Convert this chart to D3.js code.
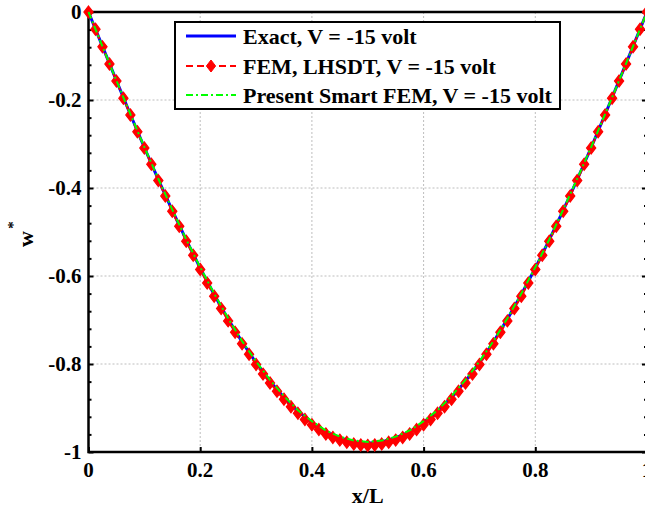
<!DOCTYPE html>
<html><head><meta charset="utf-8">
<script src="https://cdn.jsdelivr.net/npm/d3@7"></script>
<style>
body{margin:0;background:#fff}
svg{display:block}
text{font-family:"Liberation Serif","Times New Roman",serif;font-weight:bold;fill:#000}
</style>
</head><body>
<svg id="chart" width="645" height="509"></svg>
<script>
// ---------- data ----------
const xTicks = [0, 0.2, 0.4, 0.6, 0.8, 1];
const xTickLabels = ["0", "0.2", "0.4", "0.6", "0.8", "1"];
const yTicks = [0, -0.2, -0.4, -0.6, -0.8, -1];
const yTickLabels = ["0", "-0.2", "-0.4", "-0.6", "-0.8", "-1"];
const yMinorTicks = [-0.04,-0.08,-0.12,-0.16,-0.24,-0.28,-0.32,-0.36,-0.44,-0.48,-0.52,-0.56,-0.64,-0.68,-0.72,-0.76,-0.84,-0.88,-0.92,-0.96];
const seriesNames = ["Exact, V = -15 volt", "FEM, LHSDT, V = -15 volt", "Present Smart FEM, V = -15 volt"];
const xLabel = "x/L";
const yLabel = "w";

const xExact = [0,0.025,0.05,0.075,0.1,0.125,0.15,0.175,0.2,0.225,0.25,0.275,0.3,0.325,0.35,0.375,0.4,0.425,0.45,0.475,0.5,
  0.525,0.55,0.575,0.6,0.625,0.65,0.675,0.7,0.725,0.75,0.775,0.8,0.825,0.85,0.875,0.9,0.925,0.95,0.975,1];
const wExact = [0,-0.078,-0.156,-0.233,-0.308,-0.381,-0.451,-0.518,-0.582,-0.642,-0.698,-0.750,-0.797,-0.839,-0.876,-0.907,-0.933,-0.954,-0.968,-0.977,-0.980,
  -0.977,-0.968,-0.954,-0.933,-0.907,-0.876,-0.839,-0.797,-0.750,-0.698,-0.642,-0.582,-0.518,-0.451,-0.381,-0.308,-0.233,-0.156,-0.078,0];
const wPresent = [0,-0.078,-0.156,-0.232,-0.307,-0.379,-0.449,-0.517,-0.580,-0.640,-0.696,-0.748,-0.794,-0.836,-0.873,-0.905,-0.930,-0.951,-0.965,-0.974,-0.977,
  -0.974,-0.965,-0.951,-0.930,-0.905,-0.873,-0.836,-0.794,-0.748,-0.696,-0.640,-0.580,-0.517,-0.449,-0.379,-0.307,-0.232,-0.156,-0.078,0];

const xFEM = [0,0.0125,0.025,0.0375,0.05,0.0625,0.075,0.0875,0.1,0.1125,0.125,0.1375,0.15,0.1625,0.175,0.1875,0.2,0.2125,0.225,0.2375,
  0.25,0.2625,0.275,0.2875,0.3,0.3125,0.325,0.3375,0.35,0.3625,0.375,0.3875,0.4,0.4125,0.425,0.4375,0.45,0.4625,0.475,0.4875,
  0.5,0.5125,0.525,0.5375,0.55,0.5625,0.575,0.5875,0.6,0.6125,0.625,0.6375,0.65,0.6625,0.675,0.6875,0.7,0.7125,0.725,0.7375,
  0.75,0.7625,0.775,0.7875,0.8,0.8125,0.825,0.8375,0.85,0.8625,0.875,0.8875,0.9,0.9125,0.925,0.9375,0.95,0.9625,0.975,0.9875,1];
const wFEM = [0,-0.039,-0.079,-0.118,-0.157,-0.196,-0.234,-0.272,-0.309,-0.346,-0.383,-0.418,-0.453,-0.487,-0.521,-0.553,-0.585,-0.616,-0.646,-0.674,
  -0.702,-0.728,-0.754,-0.778,-0.801,-0.823,-0.843,-0.862,-0.880,-0.897,-0.912,-0.926,-0.938,-0.949,-0.959,-0.967,-0.973,-0.978,-0.982,-0.984,
  -0.985,-0.984,-0.982,-0.978,-0.973,-0.967,-0.959,-0.949,-0.938,-0.926,-0.912,-0.897,-0.880,-0.862,-0.843,-0.823,-0.801,-0.778,-0.754,-0.728,
  -0.702,-0.674,-0.646,-0.616,-0.585,-0.553,-0.521,-0.487,-0.453,-0.418,-0.383,-0.346,-0.309,-0.272,-0.234,-0.196,-0.157,-0.118,-0.079,-0.039,0];

// ---------- layout ----------
const svg = d3.select("#chart");
const L = 88.5, R = 647, T = 12, B = 452;
const x = d3.scaleLinear().domain([0, 1]).range([L, R]);
const y = d3.scaleLinear().domain([-1, 0]).range([B, T]);

// grid
const grid = svg.append("g").attr("stroke", "#bdbdbd").attr("stroke-width", 1).attr("stroke-dasharray", "2,2").attr("fill", "none");
xTicks.slice(1, -1).forEach(v => grid.append("line").attr("x1", x(v)).attr("x2", x(v)).attr("y1", T).attr("y2", B));
yTicks.slice(1, -1).forEach(v => grid.append("line").attr("y1", y(v)).attr("y2", y(v)).attr("x1", L).attr("x2", R));

// axes with inward ticks
const axL = svg.append("g").attr("transform", `translate(${L},0)`)
  .call(d3.axisRight(y).tickValues(yTicks).tickSize(5).tickFormat(""));
const axLm = svg.append("g").attr("transform", `translate(${L},0)`)
  .call(d3.axisRight(y).tickValues(yMinorTicks).tickSize(3).tickFormat(""));
const axR = svg.append("g").attr("transform", `translate(${R},0)`)
  .call(d3.axisLeft(y).tickValues(yTicks).tickSize(5).tickFormat(""));
const axRm = svg.append("g").attr("transform", `translate(${R},0)`)
  .call(d3.axisLeft(y).tickValues(yMinorTicks).tickSize(3).tickFormat(""));
const axB = svg.append("g").attr("transform", `translate(0,${B})`)
  .call(d3.axisTop(x).tickValues(xTicks).tickSize(5).tickFormat(""));
[axL, axLm, axR, axRm, axB].forEach(g => {
  g.select(".domain").remove();
  g.selectAll(".tick line").attr("stroke", "#000").attr("stroke-width", 2);
});

// frame
svg.append("rect").attr("x", L).attr("y", T).attr("width", R - L).attr("height", B - T)
  .attr("fill", "none").attr("stroke", "#000").attr("stroke-width", 2.5);

// tick labels
svg.append("g").selectAll("text").data(yTicks).join("text")
  .attr("x", L - 7).attr("y", d => y(d)).attr("dy", "0.35em").attr("text-anchor", "end")
  .attr("font-size", 21).text((d, i) => yTickLabels[i]);
svg.append("g").selectAll("text").data(xTicks).join("text")
  .attr("x", d => x(d)).attr("y", B + 25).attr("text-anchor", "middle")
  .attr("font-size", 21).text((d, i) => xTickLabels[i]);

// axis titles
svg.append("text").attr("x", (L + R) / 2).attr("y", 503).attr("text-anchor", "middle")
  .attr("font-size", 22).text(xLabel);
svg.append("text").attr("transform", "translate(33,239) rotate(-90)").attr("text-anchor", "middle")
  .attr("font-size", 22).text(yLabel);
svg.append("text").attr("transform", "translate(18,225) rotate(-90)").attr("text-anchor", "middle")
  .attr("font-size", 15).text("*");

// lines
const lineGen = (xs, ys) => d3.line().x((d, i) => x(xs[i])).y((d, i) => y(ys[i]))(ys);
const plot = svg.append("g");
plot.append("path").attr("d", lineGen(xExact, wExact)).attr("fill", "none").attr("stroke", "#0000ff").attr("stroke-width", 3);
plot.append("path").attr("d", lineGen(xFEM, wFEM)).attr("fill", "none").attr("stroke", "#ff0000").attr("stroke-width", 2).attr("stroke-dasharray", "7,4");
const diamond = "M0,-6L4.6,0L0,6L-4.6,0Z";
plot.append("g").selectAll("path").data(wFEM).join("path")
  .attr("transform", (d, i) => `translate(${x(xFEM[i])},${y(d)})`)
  .attr("d", diamond).attr("fill", "#ff0000").attr("stroke", "#ff0000").attr("stroke-width", 1.2);
plot.append("path").attr("d", lineGen(xExact, wPresent)).attr("fill", "none").attr("stroke", "#00ff00").attr("stroke-width", 2).attr("stroke-dasharray", "7,3,2,3");

// legend
const lg = svg.append("g");
lg.append("rect").attr("x", 175).attr("y", 22).attr("width", 385).attr("height", 87)
  .attr("fill", "#fff").attr("stroke", "#000").attr("stroke-width", 2);
const rows = [36, 66, 95];
lg.append("line").attr("x1", 186).attr("x2", 236).attr("y1", rows[0]).attr("y2", rows[0]).attr("stroke", "#0000ff").attr("stroke-width", 3);
lg.append("line").attr("x1", 186).attr("x2", 236).attr("y1", rows[1]).attr("y2", rows[1]).attr("stroke", "#ff0000").attr("stroke-width", 2).attr("stroke-dasharray", "7,4");
lg.append("path").attr("transform", `translate(211,${rows[1]})`).attr("d", diamond).attr("fill", "#ff0000").attr("stroke", "#ff0000");
lg.append("line").attr("x1", 186).attr("x2", 236).attr("y1", rows[2]).attr("y2", rows[2]).attr("stroke", "#00ff00").attr("stroke-width", 2).attr("stroke-dasharray", "7,3,2,3");
lg.selectAll("text.lab").data(seriesNames).join("text").attr("class", "lab")
  .attr("x", 243).attr("y", (d, i) => rows[i]).attr("dy", "0.35em").attr("font-size", 22).text(d => d);
</script>
</body></html>
